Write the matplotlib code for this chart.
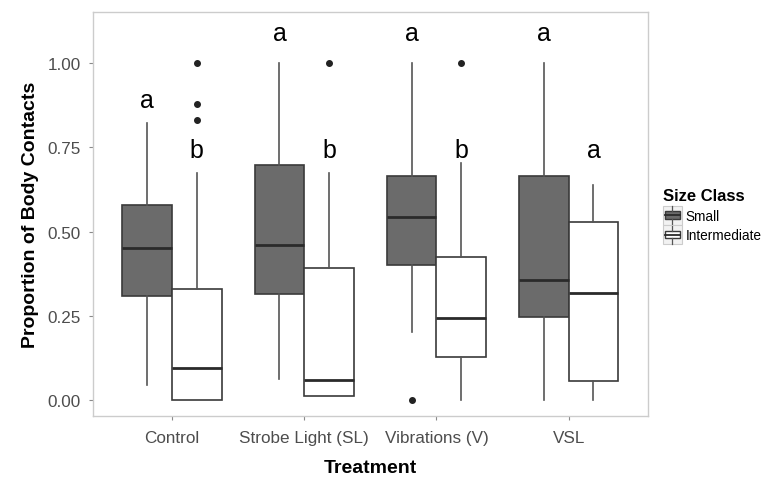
import matplotlib
matplotlib.use("Agg")
import matplotlib.pyplot as plt
from matplotlib.patches import Patch, Rectangle
from matplotlib.lines import Line2D
from matplotlib.legend_handler import HandlerBase

plt.rcParams["font.family"] = ["Liberation Sans", "DejaVu Sans"]

treatments = ["Control", "Strobe Light (SL)", "Vibrations (V)", "VSL"]
size_classes = ["Small", "Intermediate"]

# box stats per treatment: [whislo, q1, med, q3, whishi]
small_stats = [
    [0.045, 0.309, 0.450, 0.579, 0.822],
    [0.064, 0.315, 0.461, 0.698, 1.000],
    [0.203, 0.401, 0.542, 0.666, 1.000],
    [0.000, 0.247, 0.356, 0.666, 1.000],
]
inter_stats = [
    [0.000, 0.000, 0.095, 0.331, 0.674],
    [0.011, 0.011, 0.059, 0.391, 0.673],
    [0.000, 0.127, 0.243, 0.425, 0.702],
    [0.000, 0.057, 0.317, 0.529, 0.639],
]
small_outliers = [[], [], [0.0], []]
inter_outliers = [[1.0, 0.878, 0.832], [1.0], [1.0], []]

small_letters = ["a", "a", "a", "a"]
inter_letters = ["b", "b", "b", "a"]
small_letter_y = [0.89, 1.09, 1.09, 1.09]
inter_letter_y = [0.743, 0.743, 0.743, 0.743]

fig = plt.figure(figsize=(7.7, 4.81), dpi=100)
ax = fig.add_axes([0.1204, 0.133, 0.7212, 0.840])

def make_stats(s, fl):
    return dict(whislo=s[0], q1=s[1], med=s[2], q3=s[3], whishi=s[4], fliers=fl)

w = 0.375
edge = "#3a3a3a"
fills = ["#6b6b6b", "white"]
for i in range(len(treatments)):
    x = i + 1
    for off, stats, outl, fc in [(-w / 2, small_stats[i], small_outliers[i], fills[0]),
                                  (w / 2, inter_stats[i], inter_outliers[i], fills[1])]:
        ax.bxp([make_stats(stats, outl)], positions=[x + off], widths=[w],
               patch_artist=True, showcaps=False,
               boxprops=dict(facecolor=fc, edgecolor=edge, linewidth=1.2),
               medianprops=dict(color="#2a2a2a", linewidth=2.0),
               whiskerprops=dict(color="#555555", linewidth=1.2),
               flierprops=dict(marker="o", markersize=4, markerfacecolor="#222222",
                               markeredgecolor="#222222"),
               manage_ticks=False)
    ax.text(x - w / 2, small_letter_y[i], small_letters[i], ha="center", va="center",
            fontsize=18, color="black")
    ax.text(x + w / 2, inter_letter_y[i], inter_letters[i], ha="center", va="center",
            fontsize=18, color="black")

ax.set_xlim(0.4, 4.6)
ax.set_ylim(-0.047, 1.151)
ax.set_xticks(range(1, len(treatments) + 1))
ax.set_xticklabels(treatments)
ax.set_yticks([0, 0.25, 0.5, 0.75, 1.0])
ax.set_yticklabels(["0.00", "0.25", "0.50", "0.75", "1.00"])
ax.tick_params(axis="both", colors="#8a8a8a", labelcolor="#4d4d4d", labelsize=12.3,
               length=3, width=0.8)
ax.tick_params(axis="x", pad=7)
ax.tick_params(axis="y", pad=5.5)
for sp in ax.spines.values():
    sp.set_color("#cccccc")
    sp.set_linewidth(1.0)
ax.set_ylabel("Proportion of Body Contacts", fontsize=14, fontweight="bold", labelpad=6)
ax.set_xlabel("Treatment", fontsize=14, fontweight="bold", labelpad=10)

KEY = 13.7  # key size in points (~19 px)


class BoxHandler(HandlerBase):
    def create_artists(self, legend, orig_handle, xdescent, ydescent, width, height,
                       fontsize, trans):
        fc = orig_handle.get_facecolor()
        cx = -xdescent + width / 2
        cy = -ydescent + height / 2
        h = KEY / 2
        bg = Rectangle((cx - h, cy - h), KEY, KEY, facecolor="#f2f2f2",
                       edgecolor="#cccccc", lw=0.8, transform=trans)
        bx = Rectangle((cx - 0.82 * h, cy - 0.38 * h), 1.64 * h, 0.76 * h,
                       facecolor=fc, edgecolor=edge, lw=1.0, transform=trans)
        med = Line2D([cx - 0.82 * h, cx + 0.82 * h], [cy, cy], color="#2a2a2a", lw=1.3,
                     transform=trans)
        wt = Line2D([cx, cx], [cy + 0.38 * h, cy + 0.92 * h], color="#555555", lw=0.9,
                    transform=trans)
        wb = Line2D([cx, cx], [cy - 0.92 * h, cy - 0.38 * h], color="#555555", lw=0.9,
                    transform=trans)
        return [bg, bx, med, wt, wb]


handles = [Patch(facecolor=fills[0], edgecolor=edge), Patch(facecolor=fills[1], edgecolor=edge)]
leg = fig.legend(handles, size_classes, title="Size Class", loc="upper left",
                 bbox_to_anchor=(0.861, 0.607), frameon=False, fontsize=9.8,
                 title_fontproperties=dict(weight="bold", size=12),
                 handler_map={Patch: BoxHandler()},
                 handlelength=1.4, handleheight=1.0, handletextpad=0.25,
                 labelspacing=0.42, borderaxespad=0.0, borderpad=0.0)
leg._legend_box.align = "left"

fig.savefig("out.png", dpi=100)
